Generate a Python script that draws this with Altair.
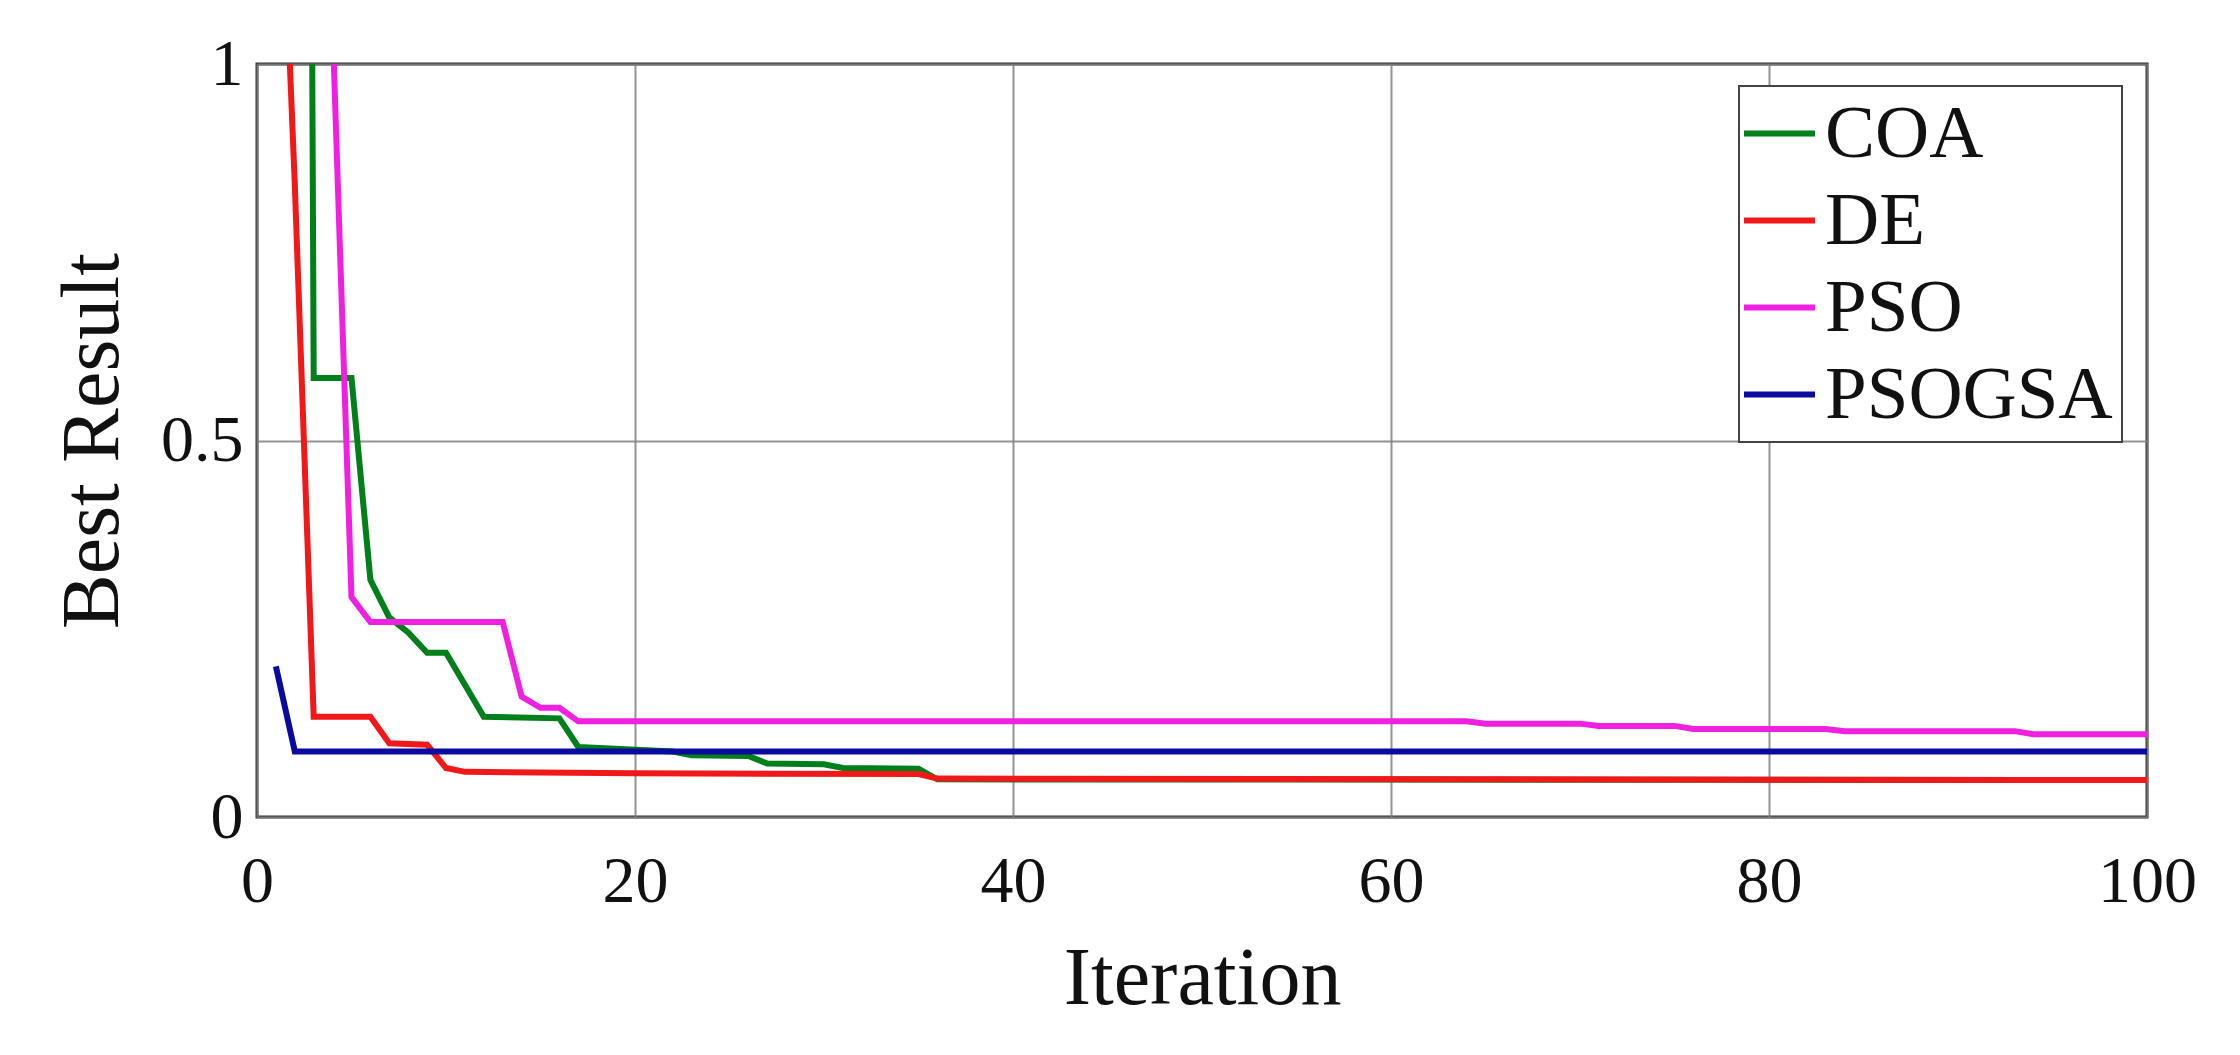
import altair as alt
import pandas as pd

# ---- data ----
coa_x = [1, 2, 3, 5, 6, 7, 8, 9, 10, 12, 16, 17, 22, 23, 26, 27, 30, 31, 35, 36, 100]
coa_y = [8.0, 6.0, 0.583, 0.583, 0.315, 0.265, 0.245, 0.218, 0.218, 0.133, 0.131,
         0.093, 0.087, 0.082, 0.081, 0.071, 0.070, 0.065, 0.064, 0.050, 0.049]

de_x = [1, 2, 3, 6, 7, 9, 10, 11, 20, 35, 36, 100]
de_y = [1.45, 0.84, 0.133, 0.133, 0.098, 0.096, 0.065, 0.060, 0.058, 0.057, 0.051, 0.049]

pso_x = [1, 3, 4, 5, 6, 13, 14, 15, 16, 17, 64, 65, 70, 71, 75, 76, 83, 84, 93, 94, 100]
pso_y = [5.0, 3.0, 1.05, 0.292, 0.259, 0.259, 0.160, 0.145, 0.145, 0.127, 0.127, 0.124,
         0.124, 0.121, 0.121, 0.117, 0.117, 0.114, 0.114, 0.110, 0.110]

psogsa_x = [1, 2, 100]
psogsa_y = [0.200, 0.087, 0.087]

series_names = ["COA", "DE", "PSO", "PSOGSA"]
series_colors = ["#007F1A", "#F01818", "#F020E0", "#0A0AA0"]
x_ticks = [0, 20, 40, 60, 80, 100]
y_ticks = [0, 0.5, 1]

rows = []
for name, xs, ys in zip(series_names, [coa_x, de_x, pso_x, psogsa_x],
                        [coa_y, de_y, pso_y, psogsa_y]):
    for i, (x, y) in enumerate(zip(xs, ys)):
        rows.append({"Algorithm": name, "Iteration": x, "Best": y, "order": i})
df = pd.DataFrame(rows)

FONT = "Liberation Serif"

chart = alt.Chart(df).mark_line(strokeWidth=6, clip=True).encode(
    x=alt.X("Iteration:Q",
            scale=alt.Scale(domain=[0, 100], nice=False, zero=False),
            axis=alt.Axis(values=x_ticks, title="Iteration", labelFlush=False,
                          labelPadding=32, titlePadding=24, format="d")),
    y=alt.Y("Best:Q",
            scale=alt.Scale(domain=[0, 1], nice=False),
            axis=alt.Axis(values=y_ticks, title="Best Result", format="~g",
                          labelPadding=14, titlePadding=26)),
    color=alt.Color("Algorithm:N",
                    scale=alt.Scale(domain=series_names, range=series_colors),
                    legend=alt.Legend(title=None, orient="none", legendX=1482, legendY=22,
                                      symbolType="stroke", symbolSize=5041,
                                      symbolStrokeWidth=6, labelOffset=7,
                                      symbolOffset=-7,
                                      rowPadding=10, padding=9,
                                      strokeColor="#444444", fillColor="white")),
    order="order:Q",
    detail="Algorithm:N",
).properties(
    width=1890, height=753,
    autosize=alt.AutoSizeParams(type="none"),
    padding={"left": 249, "top": 56, "right": 85, "bottom": 230},
).configure_view(
    stroke="#333333", strokeWidth=3
).configure_axis(
    grid=True, gridColor="#808080", gridWidth=2, gridOpacity=0.85,
    domain=False, ticks=False,
    labelFont=FONT, labelFontSize=66, labelColor="#111111",
    titleFont=FONT, titleFontSize=82, titleFontWeight="normal", titleColor="#111111",
).configure_legend(
    labelFont=FONT, labelFontSize=75, labelColor="#111111", strokeWidth=2,
    labelLimit=0,
)

chart.save("out.html", embed_options={"renderer": "svg", "actions": False})
